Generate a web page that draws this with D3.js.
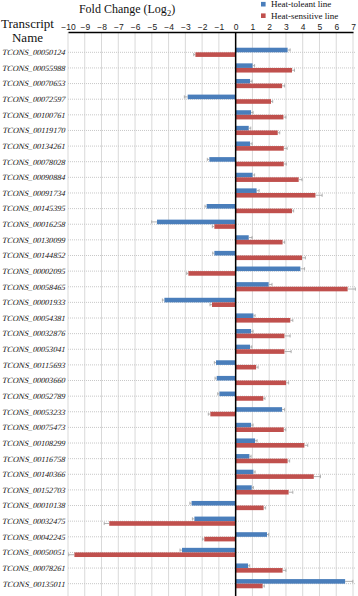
<!DOCTYPE html>
<html>
<head>
<meta charset="utf-8">
<script src="https://cdn.jsdelivr.net/npm/d3@7"></script>
<style>
  html, body { margin: 0; padding: 0; background: #fff; }
  svg { display: block; }
</style>
</head>
<body>
<div id="chart"></div>
<script>
const transcripts = [
  'TCONS_00050124', 'TCONS_00055988', 'TCONS_00070653', 'TCONS_00072597', 'TCONS_00100761',
  'TCONS_00119170', 'TCONS_00134261', 'TCONS_00078028', 'TCONS_00090884', 'TCONS_00091734',
  'TCONS_00145395', 'TCONS_00016258', 'TCONS_00130099', 'TCONS_00144852', 'TCONS_00002095',
  'TCONS_00058465', 'TCONS_00001933', 'TCONS_00054381', 'TCONS_00032876', 'TCONS_00053041',
  'TCONS_00115693', 'TCONS_00003660', 'TCONS_00052789', 'TCONS_00053233', 'TCONS_00075473',
  'TCONS_00108299', 'TCONS_00116758', 'TCONS_00140366', 'TCONS_00152703', 'TCONS_00010138',
  'TCONS_00032475', 'TCONS_00042245', 'TCONS_00050051', 'TCONS_00078261', 'TCONS_00135011'
];

const tolerantValues = [
  3.10, 1.01, 0.86, -2.86, 0.92, 0.78, 0.86, -1.57, 1.01, 1.25,
  -1.73, -4.69, 0.78, -1.27, 3.86, 1.97, -4.25, 1.06, 0.92, 0.86,
  -1.17, -1.13, -0.97, 2.77, 0.92, 1.16, 0.82, 1.06, 0.96, -2.63,
  -2.46, 1.87, -3.20, 0.74, 6.53
];
const tolerantErrors = [
  0.15, 0.12, 0.12, 0.20, 0.12, 0.12, 0.12, 0.12, 0.12, 0.15,
  0.10, 0.32, 0.20, 0.10, 0.25, 0.20, 0.12, 0.10, 0.12, 0.10,
  0.10, 0.10, 0.10, 0.15, 0.12, 0.12, 0.10, 0.10, 0.10, 0.10,
  0.12, 0.10, 0.12, 0.10, 0.46
];

const sensitiveValues = [
  -2.40, 3.36, 2.77, 2.11, 2.85, 2.51, 2.87, 2.87, 3.76, 4.76,
  3.36, -1.27, 2.80, 3.96, -2.82, 6.68, -1.41, 3.26, 2.91, 2.91,
  1.22, 3.01, 1.65, -1.51, 2.87, 4.10, 3.10, 4.66, 3.16, 1.67,
  -7.54, -1.87, -9.62, 2.80, 1.61
];
const sensitiveErrors = [
  0.10, 0.15, 0.15, 0.10, 0.15, 0.12, 0.20, 0.15, 0.20, 0.40,
  0.10, 0.12, 0.12, 0.20, 0.10, 0.46, 0.12, 0.15, 0.34, 0.40,
  0.12, 0.15, 0.10, 0.12, 0.12, 0.20, 0.12, 0.40, 0.25, 0.12,
  0.30, 0.10, 0.34, 0.20, 0.10
];

const xTicks = d3.range(-10, 8);
const seriesNames = ['Heat-toleant line', 'Heat-sensitive line'];
const seriesColors = ['#4a7ebb', '#c0504d'];

const width = 358, height = 596;
const serif = '"Liberation Serif", "Times New Roman", serif';

const svg = d3.select('#chart').append('svg')
  .attr('width', width)
  .attr('height', height);

const axisY = 32;
const x = d3.scaleLinear().domain([-10, 7]).range([68, 353]);
const y = d3.scaleBand().domain(transcripts).range([44.5, 591.5]);
const sub = d3.scaleBand().domain([0, 1]).range([0, y.bandwidth()]).paddingOuter(0.7);

// vertical gridlines
svg.append('g').selectAll('line')
  .data(xTicks)
  .join('line')
  .attr('x1', d => x(d)).attr('x2', d => x(d))
  .attr('y1', axisY).attr('y2', height)
  .attr('stroke', '#d9d9d9')
  .attr('stroke-width', 1);

// horizontal dotted gridlines
svg.append('g').selectAll('line')
  .data(transcripts)
  .join('line')
  .attr('x1', x(-10)).attr('x2', 356)
  .attr('y1', d => y(d) + y.bandwidth() / 2)
  .attr('y2', d => y(d) + y.bandwidth() / 2)
  .attr('stroke', '#c8c8c8')
  .attr('stroke-width', 1)
  .attr('stroke-dasharray', '1,1');

// bars
const rows = transcripts.map((t, i) => ({
  t,
  vals: [
    { s: 0, v: tolerantValues[i], e: tolerantErrors[i] },
    { s: 1, v: sensitiveValues[i], e: sensitiveErrors[i] }
  ]
}));

const groups = svg.append('g').selectAll('g')
  .data(rows)
  .join('g')
  .attr('transform', d => `translate(0,${y(d.t)})`);

groups.selectAll('rect')
  .data(d => d.vals)
  .join('rect')
  .attr('x', d => x(Math.min(0, d.v)))
  .attr('width', d => Math.abs(x(d.v) - x(0)))
  .attr('y', d => sub(d.s))
  .attr('height', sub.bandwidth())
  .attr('fill', d => seriesColors[d.s]);

// error bars
const err = groups.selectAll('g.err')
  .data(d => d.vals)
  .join('g')
  .attr('class', 'err')
  .attr('transform', d => `translate(0,${sub(d.s) + sub.bandwidth() / 2})`);

err.append('line')
  .attr('x1', d => x(d.v))
  .attr('x2', d => x(d.v + Math.sign(d.v) * d.e))
  .attr('stroke', '#a0a0a0')
  .attr('stroke-width', 0.8);

err.append('line')
  .attr('x1', d => x(d.v + Math.sign(d.v) * d.e))
  .attr('x2', d => x(d.v + Math.sign(d.v) * d.e))
  .attr('y1', -1.6).attr('y2', 1.6)
  .attr('stroke', '#a0a0a0')
  .attr('stroke-width', 0.8);

// zero line
svg.append('line')
  .attr('x1', x(0)).attr('x2', x(0))
  .attr('y1', axisY).attr('y2', height)
  .attr('stroke', '#000')
  .attr('stroke-width', 1.5);

// top axis
const xAxis = d3.axisTop(x).tickValues(xTicks).tickSize(0).tickPadding(2.5);
const axisG = svg.append('g')
  .attr('transform', `translate(0,${axisY})`)
  .call(xAxis);
axisG.select('.domain').attr('stroke', '#000').attr('stroke-width', 1.5);
axisG.selectAll('text')
  .attr('font-family', '"Liberation Sans", Arial, sans-serif')
  .attr('font-size', 8.5)
  .attr('fill', '#222');

// category labels (slanted like italic Times)
svg.append('g').selectAll('text')
  .data(transcripts)
  .join('text')
  .attr('transform', d => `translate(65.5,${y(d) + y.bandwidth() / 2}) skewX(-14)`)
  .attr('dy', '0.35em')
  .attr('text-anchor', 'end')
  .attr('font-family', serif)
  .attr('font-size', 8.1)
  .attr('fill', '#111')
  .text(d => d);

// titles
const title = svg.append('text')
  .attr('x', 127).attr('y', 13)
  .attr('text-anchor', 'middle')
  .attr('font-family', serif)
  .attr('font-size', 12)
  .attr('fill', '#111');
title.append('tspan').text('Fold Change (Log');
title.append('tspan').attr('font-size', 8.5).attr('dy', 3).text('2');
title.append('tspan').attr('dy', -3).text(')');

svg.append('text')
  .attr('x', 27.5).attr('y', 28)
  .attr('text-anchor', 'middle')
  .attr('font-family', serif)
  .attr('font-size', 13)
  .attr('fill', '#111')
  .text('Transcript');
svg.append('text')
  .attr('x', 27.5).attr('y', 42)
  .attr('text-anchor', 'middle')
  .attr('font-family', serif)
  .attr('font-size', 13)
  .attr('fill', '#111')
  .text('Name');

// legend
const legend = svg.append('g').selectAll('g')
  .data(seriesNames)
  .join('g')
  .attr('transform', (d, i) => `translate(261,${4.2 + i * 11.5})`);
legend.append('rect')
  .attr('x', 0).attr('y', -2.3)
  .attr('width', 4.6).attr('height', 4.6)
  .attr('fill', (d, i) => seriesColors[i]);
legend.append('text')
  .attr('x', 10).attr('y', 0)
  .attr('dy', '0.35em')
  .attr('font-family', serif)
  .attr('font-size', 9)
  .attr('fill', '#111')
  .text(d => d);
</script>
</body>
</html>
